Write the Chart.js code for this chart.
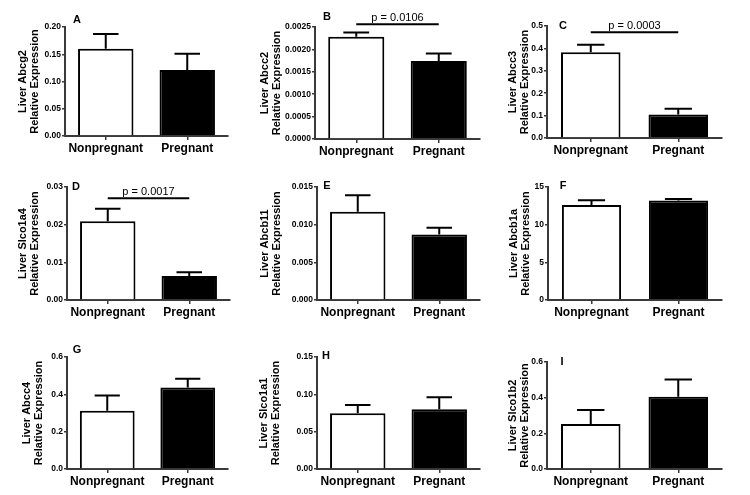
<!DOCTYPE html>
<html>
<head>
<meta charset="utf-8">
<title>Liver transporter expression</title>
<script src="https://cdn.jsdelivr.net/npm/chart.js@4"></script>
<style>
  body { margin: 0; background: #fff; }
  #figure { position: relative; width: 750px; height: 495px; }
  #figure canvas { position: absolute; }
</style>
</head>
<body>
<div id="figure"></div>
<script>
// values (mean and upper SEM for each group)
const groups = ["Nonpregnant", "Pregnant"];
const panelLetters = ["A", "B", "C", "D", "E", "F", "G", "H", "I"];
const genes = ["Abcg2", "Abcc2", "Abcc3", "Slco1a4", "Abcb11", "Abcb1a", "Abcc4", "Slco1a1", "Slco1b2"];
const meanNonpregnant = [0.160, 0.00228, 0.383, 0.0209, 0.0117, 12.6, 0.312, 0.0746, 0.253];
const semNonpregnant = [0.027, 0.00010, 0.033, 0.0033, 0.0022, 0.65, 0.082, 0.011, 0.078];
const meanPregnant = [0.121, 0.00174, 0.105, 0.0064, 0.0087, 13.2, 0.437, 0.080, 0.405];
const semPregnant = [0.030, 0.00017, 0.026, 0.0010, 0.0009, 0.2, 0.046, 0.016, 0.097];
const axisMax = [0.20, 0.0025, 0.5, 0.03, 0.015, 15, 0.6, 0.15, 0.6];
const axisStep = [0.05, 0.0005, 0.1, 0.01, 0.005, 5, 0.2, 0.05, 0.2];
const tickDecimals = [2, 4, 1, 2, 3, 0, 1, 2, 1];
const pValues = [null, "0.0106", "0.0003", "0.0017", null, null, null, null, null];

// where each panel sits on the page
// l,t,r,b = plot area, tx = first title line, lx/ly = panel letter, bracket = p line height (data units)
const panelBoxes = [
  { l: 65, t: 27, r: 228, b: 136, tx: 23, lx: 77, ly: 20 },
  { l: 315, t: 27, r: 480, b: 139, tx: 265, lx: 327, ly: 17, bracket: 0.00256 },
  { l: 547, t: 26, r: 722, b: 138, tx: 513, lx: 563, ly: 26, bracket: 0.472 },
  { l: 67, t: 187, r: 230, b: 300, tx: 22.5, lx: 76, ly: 187, bracket: 0.027 },
  { l: 317, t: 187, r: 480, b: 300, tx: 265, lx: 327, ly: 186 },
  { l: 548, t: 187, r: 722, b: 300, tx: 514, lx: 563, ly: 186 },
  { l: 67, t: 357, r: 228, b: 469, tx: 27, lx: 77, ly: 350 },
  { l: 317, t: 357, r: 480, b: 469, tx: 264, lx: 326, ly: 356 },
  { l: 547, t: 362, r: 722, b: 469, tx: 513, lx: 562, ly: 362 }
];

const FONT = "'Liberation Sans', Arial, sans-serif";
const AXIS = "#3a3a3a";
const CELL_W = 250, CELL_H = 165;

// error bars, p bracket and panel letter
const extras = {
  id: "extras",
  afterDatasetsDraw(chart, args, opts) {
    const ctx = chart.ctx;
    const y = chart.scales.y;
    const bars = chart.getDatasetMeta(0).data;
    ctx.save();
    ctx.strokeStyle = "#000";
    ctx.lineWidth = 2;
    bars.forEach((bar, i) => {
      const top = y.getPixelForValue(opts.means[i] + opts.errs[i]);
      const half = bar.width * 0.23;
      ctx.beginPath();
      ctx.moveTo(bar.x, bar.y);
      ctx.lineTo(bar.x, top);
      ctx.moveTo(bar.x - half, top);
      ctx.lineTo(bar.x + half, top);
      ctx.stroke();
    });
    if (opts.p) {
      const py = y.getPixelForValue(opts.bracket);
      ctx.beginPath();
      ctx.moveTo(bars[0].x, py);
      ctx.lineTo(bars[1].x, py);
      ctx.stroke();
      ctx.fillStyle = "#000";
      ctx.font = "11px " + FONT;
      ctx.textAlign = "center";
      ctx.textBaseline = "bottom";
      ctx.fillText("p = " + opts.p, (bars[0].x + bars[1].x) / 2, py - 1);
    }
    ctx.fillStyle = "#000";
    ctx.font = "bold 11px " + FONT;
    ctx.textAlign = "center";
    ctx.textBaseline = "middle";
    ctx.fillText(opts.letter, opts.lx, opts.ly);
    ctx.restore();
  }
};

document.addEventListener("DOMContentLoaded", function () {
  const figure = document.getElementById("figure");

  genes.forEach((gene, i) => {
    const box = panelBoxes[i];
    const cellX = (i % 3) * CELL_W;
    const cellY = Math.floor(i / 3) * CELL_H;

    const canvas = document.createElement("canvas");
    canvas.width = CELL_W;
    canvas.height = CELL_H;
    canvas.style.left = cellX + "px";
    canvas.style.top = cellY + "px";
    figure.appendChild(canvas);

    const means = [meanNonpregnant[i], meanPregnant[i]];
    const errs = [semNonpregnant[i], semPregnant[i]];

    new Chart(canvas.getContext("2d"), {
      type: "bar",
      data: {
        labels: groups,
        datasets: [{
          data: means,
          backgroundColor: ["#ffffff", "#000000"],
          borderColor: "#000000",
          borderWidth: 2,
          barPercentage: 0.68,
          categoryPercentage: 1
        }]
      },
      plugins: [extras],
      options: {
        responsive: false,
        animation: false,
        devicePixelRatio: 1,
        layout: {
          padding: { left: 0, top: box.t - cellY, right: cellX + CELL_W - box.r, bottom: 0 }
        },
        plugins: {
          legend: { display: false },
          tooltip: { enabled: false },
          extras: {
            means: means,
            errs: errs,
            p: pValues[i],
            bracket: box.bracket,
            letter: panelLetters[i],
            lx: box.lx - cellX,
            ly: box.ly - cellY
          }
        },
        scales: {
          x: {
            afterFit: (s) => { s.height = cellY + CELL_H - box.b; },
            border: { display: true, color: AXIS, width: 2 },
            grid: { display: true, drawOnChartArea: false, drawTicks: true, offset: false, tickLength: 4, color: AXIS, lineWidth: 1.5 },
            ticks: {
              color: "#000",
              padding: 1,
              maxRotation: 0,
              minRotation: 0,
              autoSkip: false,
              font: { family: FONT, size: 12, weight: "bold" }
            }
          },
          y: {
            min: 0,
            max: axisMax[i],
            afterFit: (s) => { s.width = box.l - cellX; },
            border: { display: true, color: AXIS, width: 2 },
            grid: { display: true, drawOnChartArea: false, drawTicks: true, tickLength: 3, color: AXIS, lineWidth: 1.5 },
            ticks: {
              stepSize: axisStep[i],
              padding: 1,
              color: "#000",
              font: { family: FONT, size: 8.5, weight: "bold" },
              callback: (v) => Number(v).toFixed(tickDecimals[i])
            },
            title: {
              display: true,
              text: ["Liver " + gene, "Relative Expression"],
              color: "#000",
              font: { family: FONT, size: 11, weight: "bold", lineHeight: 1.1 },
              padding: { top: box.tx - cellX - 6, bottom: 0 }
            }
          }
        }
      }
    });
  });
});
</script>
</body>
</html>
